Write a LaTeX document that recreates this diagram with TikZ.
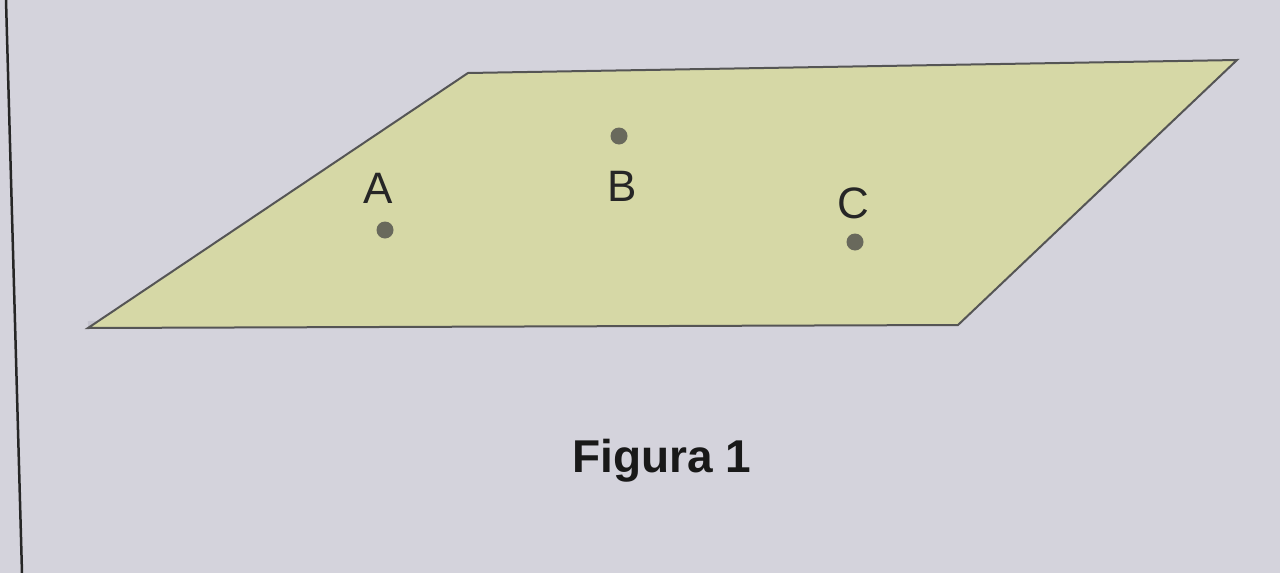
\documentclass[tikz,border=0pt]{standalone}
\usepackage{fontspec}
\setmainfont{Liberation Sans}
\definecolor{bg}{RGB}{212,211,220}
\definecolor{planefill}{RGB}{214,216,166}
\definecolor{edge}{RGB}{85,85,85}
\definecolor{dotc}{RGB}{105,105,92}
\definecolor{shadowc}{RGB}{196,195,206}
\begin{document}
\begin{tikzpicture}[x=1pt,y=-1pt,
  pt/.style={circle,fill=dotc,inner sep=0pt,minimum size=17pt},
  lab/.style={inner sep=0pt,font=\fontsize{44}{48}\selectfont,text=black!85},
  caption/.style={inner sep=0pt,font=\fontsize{46}{50}\selectfont\bfseries,text=black!90}]
\useasboundingbox (0,0) rectangle (1280,573);
\fill[bg] (0,0) rectangle (1280,573);
% frame line at left
\coordinate (f1) at (6,0);
\coordinate (f2) at (22,573);
\draw[line width=2.5pt,black!85] (f1) -- (f2);
% plane
\coordinate (p1) at (88,328);
\coordinate (p2) at (468,73);
\coordinate (p3) at (1237,60);
\coordinate (p4) at (958,325);
\draw[line width=6pt,shadowc] ([yshift=4pt]p1) -- ([yshift=4pt]p4);
\filldraw[fill=planefill,draw=edge,line width=2pt,line join=miter] (p1) -- (p2) -- (p3) -- (p4) -- cycle;
% points
\node[pt] (A) at (385,230) {};
\node[pt] (B) at (619,136) {};
\node[pt] (C) at (855,242) {};
\node[lab] (lA) at (378,188) {A};
\node[lab] (lB) at (622,186) {B};
\node[lab] (lC) at (853,203) {C};
\node[caption] (fig) at (662,461) {Figura 1};
\end{tikzpicture}
\end{document}
